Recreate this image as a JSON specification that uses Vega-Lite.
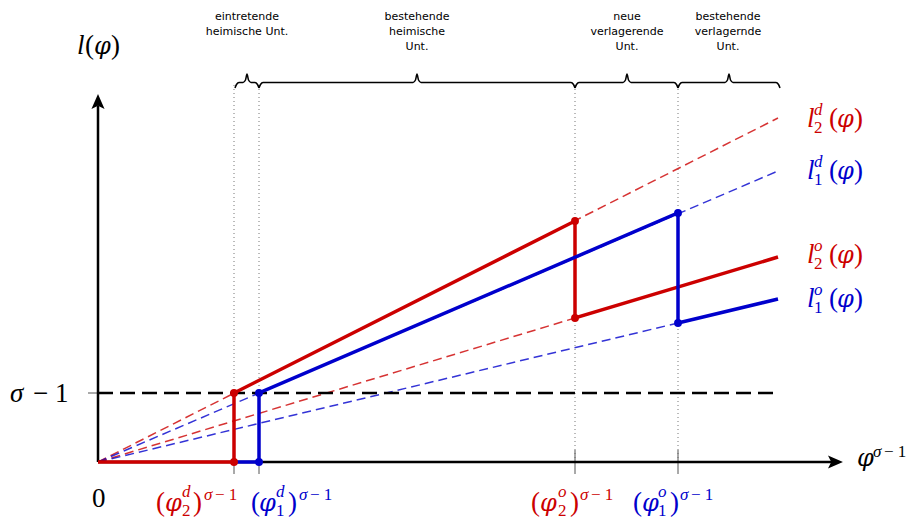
{
  "$schema": "https://vega.github.io/schema/vega-lite/v6.json",
  "width": 917,
  "height": 519,
  "autosize": "none",
  "padding": 0,
  "background": "white",
  "config": {"view": {"stroke": null}},
  "datasets": {
    "segments": [
      {"kind": "guide", "series": "k", "x": 136, "x2": 136, "y": 0, "y2": 377},
      {"kind": "guide", "series": "k", "x": 161, "x2": 161, "y": 0, "y2": 377},
      {"kind": "guide", "series": "k", "x": 477, "x2": 477, "y": 0, "y2": 377},
      {"kind": "guide", "series": "k", "x": 580, "x2": 580, "y": 0, "y2": 377},
      {"kind": "tick", "series": "k", "x": 136, "x2": 136, "y": -12, "y2": 12},
      {"kind": "tick", "series": "k", "x": 161, "x2": 161, "y": -12, "y2": 12},
      {"kind": "tick", "series": "k", "x": 477, "x2": 477, "y": -12, "y2": 12},
      {"kind": "tick", "series": "k", "x": 580, "x2": 580, "y": -12, "y2": 12},
      {"kind": "tick", "series": "k", "x": -10, "x2": 0, "y": 69, "y2": 69},
      {"kind": "ray", "series": "l2", "x": 0, "x2": 680, "y": 0, "y2": 344},
      {"kind": "ray", "series": "l1", "x": 0, "x2": 680, "y": 0, "y2": 291},
      {"kind": "ray", "series": "l2", "x": 0, "x2": 477, "y": 0, "y2": 144},
      {"kind": "ray", "series": "l1", "x": 0, "x2": 580, "y": 0, "y2": 139},
      {"kind": "sigma", "series": "k", "x": 0, "x2": 680, "y": 69, "y2": 69},
      {"kind": "axis", "series": "k", "x": 0, "x2": 735, "y": 0, "y2": 0},
      {"kind": "axis", "series": "k", "x": 0, "x2": 0, "y": 0, "y2": 356}
    ],
    "paths": [
      {"series": "l2", "o": 0, "x": 0, "y": 0},
      {"series": "l2", "o": 1, "x": 136, "y": 0},
      {"series": "l2", "o": 2, "x": 136, "y": 69},
      {"series": "l2", "o": 3, "x": 477, "y": 241},
      {"series": "l2", "o": 4, "x": 477, "y": 144},
      {"series": "l2", "o": 5, "x": 680, "y": 205},
      {"series": "l1", "o": 0, "x": 136, "y": 0},
      {"series": "l1", "o": 1, "x": 161, "y": 0},
      {"series": "l1", "o": 2, "x": 161, "y": 69},
      {"series": "l1", "o": 3, "x": 580, "y": 249},
      {"series": "l1", "o": 4, "x": 580, "y": 139},
      {"series": "l1", "o": 5, "x": 680, "y": 163}
    ],
    "dots": [
      {"series": "l2", "x": 136, "y": 0},
      {"series": "l2", "x": 136, "y": 69},
      {"series": "l2", "x": 477, "y": 241},
      {"series": "l2", "x": 477, "y": 144},
      {"series": "l1", "x": 161, "y": 0},
      {"series": "l1", "x": 161, "y": 69},
      {"series": "l1", "x": 580, "y": 249},
      {"series": "l1", "x": 580, "y": 139}
    ],
    "arrows": [
      {"dir": "up", "x": 0, "y": 358.6},
      {"dir": "right", "x": 735.6, "y": 0}
    ],
    "braces": [
      {"id": 1, "o": 0, "x": 137, "y": 374}, {"id": 1, "o": 1, "x": 138.5, "y": 377.5}, {"id": 1, "o": 2, "x": 141, "y": 379.5}, {"id": 1, "o": 3, "x": 145, "y": 379.5}, {"id": 1, "o": 4, "x": 147.5, "y": 382}, {"id": 1, "o": 5, "x": 149, "y": 388}, {"id": 1, "o": 6, "x": 150.5, "y": 382}, {"id": 1, "o": 7, "x": 153, "y": 379.5}, {"id": 1, "o": 8, "x": 157, "y": 379.5}, {"id": 1, "o": 9, "x": 159.5, "y": 377.5}, {"id": 1, "o": 10, "x": 161, "y": 374},
      {"id": 2, "o": 0, "x": 161, "y": 374}, {"id": 2, "o": 1, "x": 162.5, "y": 377.5}, {"id": 2, "o": 2, "x": 165, "y": 379.5}, {"id": 2, "o": 3, "x": 315, "y": 379.5}, {"id": 2, "o": 4, "x": 317.5, "y": 382}, {"id": 2, "o": 5, "x": 319, "y": 388}, {"id": 2, "o": 6, "x": 320.5, "y": 382}, {"id": 2, "o": 7, "x": 323, "y": 379.5}, {"id": 2, "o": 8, "x": 473, "y": 379.5}, {"id": 2, "o": 9, "x": 475.5, "y": 377.5}, {"id": 2, "o": 10, "x": 477, "y": 374},
      {"id": 3, "o": 0, "x": 477, "y": 374}, {"id": 3, "o": 1, "x": 478.5, "y": 377.5}, {"id": 3, "o": 2, "x": 481, "y": 379.5}, {"id": 3, "o": 3, "x": 525, "y": 379.5}, {"id": 3, "o": 4, "x": 527.5, "y": 382}, {"id": 3, "o": 5, "x": 529, "y": 388}, {"id": 3, "o": 6, "x": 530.5, "y": 382}, {"id": 3, "o": 7, "x": 533, "y": 379.5}, {"id": 3, "o": 8, "x": 576, "y": 379.5}, {"id": 3, "o": 9, "x": 578.5, "y": 377.5}, {"id": 3, "o": 10, "x": 580, "y": 374},
      {"id": 4, "o": 0, "x": 580, "y": 374}, {"id": 4, "o": 1, "x": 581.5, "y": 377.5}, {"id": 4, "o": 2, "x": 584, "y": 379.5}, {"id": 4, "o": 3, "x": 627, "y": 379.5}, {"id": 4, "o": 4, "x": 629.5, "y": 382}, {"id": 4, "o": 5, "x": 631, "y": 388}, {"id": 4, "o": 6, "x": 632.5, "y": 382}, {"id": 4, "o": 7, "x": 635, "y": 379.5}, {"id": 4, "o": 8, "x": 678, "y": 379.5}, {"id": 4, "o": 9, "x": 680.5, "y": 377.5}, {"id": 4, "o": 10, "x": 682, "y": 374}
    ],
    "captions": [
      {"text": "eintretende\nheimische Unt.", "x": 149, "y": 442},
      {"text": "bestehende\nheimische\nUnt.", "x": 319, "y": 442},
      {"text": "neue\nverlagerende\nUnt.", "x": 529, "y": 442},
      {"text": "bestehende\nverlagernde\nUnt.", "x": 630, "y": 442}
    ],
    "phi": [
      {"series": "k", "text": "φ", "x": -4, "y": 408},
      {"series": "l2", "text": "φ", "x": 739, "y": 335},
      {"series": "l1", "text": "φ", "x": 739, "y": 283},
      {"series": "l2", "text": "φ", "x": 739, "y": 199},
      {"series": "l1", "text": "φ", "x": 739, "y": 155},
      {"series": "l2", "text": "φ", "x": 67, "y": -49},
      {"series": "l1", "text": "φ", "x": 161, "y": -49},
      {"series": "l2", "text": "φ", "x": 442, "y": -49},
      {"series": "l1", "text": "φ", "x": 544, "y": -49},
      {"series": "k", "text": "φ", "x": 759, "y": -4}
    ],
    "baseItalic": [
      {"series": "k", "text": "l", "x": -21, "y": 408},
      {"series": "l2", "text": "l", "x": 709, "y": 335},
      {"series": "l1", "text": "l", "x": 709, "y": 283},
      {"series": "l2", "text": "l", "x": 709, "y": 199},
      {"series": "l1", "text": "l", "x": 709, "y": 155},
      {"series": "k", "text": "σ", "x": -88, "y": 60}
    ],
    "baseUpright": [
      {"series": "k", "text": "(", "x": -13, "y": 408},
      {"series": "k", "text": ")", "x": 13, "y": 408},
      {"series": "l2", "text": "(", "x": 731, "y": 335},
      {"series": "l2", "text": ")", "x": 756, "y": 335},
      {"series": "l1", "text": "(", "x": 731, "y": 283},
      {"series": "l1", "text": ")", "x": 756, "y": 283},
      {"series": "l2", "text": "(", "x": 731, "y": 199},
      {"series": "l2", "text": ")", "x": 756, "y": 199},
      {"series": "l1", "text": "(", "x": 731, "y": 155},
      {"series": "l1", "text": ")", "x": 756, "y": 155},
      {"series": "l2", "text": "(", "x": 58, "y": -49},
      {"series": "l2", "text": ")", "x": 95, "y": -49},
      {"series": "l1", "text": "(", "x": 153, "y": -49},
      {"series": "l1", "text": ")", "x": 190, "y": -49},
      {"series": "l2", "text": "(", "x": 433, "y": -49},
      {"series": "l2", "text": ")", "x": 472, "y": -49},
      {"series": "l1", "text": "(", "x": 535, "y": -49},
      {"series": "l1", "text": ")", "x": 572, "y": -49},
      {"series": "k", "text": "0", "x": -6, "y": -45},
      {"series": "k", "text": "− 1", "x": -65, "y": 60}
    ],
    "scriptItalic": [
      {"series": "l2", "text": "d", "x": 716, "y": 347},
      {"series": "l1", "text": "d", "x": 716, "y": 295},
      {"series": "l2", "text": "o", "x": 716, "y": 211},
      {"series": "l1", "text": "o", "x": 716, "y": 167},
      {"series": "l2", "text": "d", "x": 84, "y": -35},
      {"series": "l1", "text": "d", "x": 178, "y": -35},
      {"series": "l2", "text": "o", "x": 460, "y": -35},
      {"series": "l1", "text": "o", "x": 560, "y": -35},
      {"series": "l2", "text": "σ", "x": 106, "y": -38},
      {"series": "l1", "text": "σ", "x": 201, "y": -38},
      {"series": "l2", "text": "σ", "x": 482, "y": -38},
      {"series": "l1", "text": "σ", "x": 582, "y": -38},
      {"series": "k", "text": "σ", "x": 775, "y": 5}
    ],
    "scriptUpright": [
      {"series": "l2", "text": "2", "x": 716, "y": 329},
      {"series": "l1", "text": "1", "x": 716, "y": 277},
      {"series": "l2", "text": "2", "x": 716, "y": 193},
      {"series": "l1", "text": "1", "x": 716, "y": 149},
      {"series": "l2", "text": "2", "x": 84, "y": -54},
      {"series": "l1", "text": "1", "x": 178, "y": -54},
      {"series": "l2", "text": "2", "x": 460, "y": -54},
      {"series": "l1", "text": "1", "x": 560, "y": -54},
      {"series": "l2", "text": "− 1", "x": 117, "y": -38},
      {"series": "l1", "text": "− 1", "x": 212, "y": -38},
      {"series": "l2", "text": "− 1", "x": 493, "y": -38},
      {"series": "l1", "text": "− 1", "x": 593, "y": -38},
      {"series": "k", "text": "− 1", "x": 786, "y": 5}
    ]
  },
  "encoding": {
    "x": {"field": "x", "type": "quantitative", "scale": {"domain": [-98, 819], "nice": false, "zero": false}, "axis": null},
    "y": {"field": "y", "type": "quantitative", "scale": {"domain": [-57, 462], "nice": false, "zero": false}, "axis": null}
  },
  "layer": [
    {
      "data": {"name": "segments"},
      "transform": [{"filter": "datum.kind === 'guide'"}],
      "mark": {"type": "rule", "color": "#777777", "strokeWidth": 1, "strokeDash": [1, 3]},
      "encoding": {"x2": {"field": "x2"}, "y2": {"field": "y2"}}
    },
    {
      "data": {"name": "segments"},
      "transform": [{"filter": "datum.kind === 'tick'"}],
      "mark": {"type": "rule", "color": "#555555", "strokeWidth": 1},
      "encoding": {"x2": {"field": "x2"}, "y2": {"field": "y2"}}
    },
    {
      "data": {"name": "segments"},
      "transform": [{"filter": "datum.kind === 'ray'"}],
      "mark": {"type": "rule", "strokeWidth": 1.5, "strokeDash": [9, 5], "opacity": 0.8},
      "encoding": {
        "x2": {"field": "x2"}, "y2": {"field": "y2"},
        "color": {"field": "series", "type": "nominal", "scale": {"domain": ["l1", "l2", "k"], "range": ["#0000cc", "#cc0000", "#000000"]}, "legend": null}
      }
    },
    {
      "data": {"name": "segments"},
      "transform": [{"filter": "datum.kind === 'sigma'"}],
      "mark": {"type": "rule", "color": "#000000", "strokeWidth": 2.5, "strokeDash": [15, 7]},
      "encoding": {"x2": {"field": "x2"}, "y2": {"field": "y2"}}
    },
    {
      "data": {"name": "segments"},
      "transform": [{"filter": "datum.kind === 'axis'"}],
      "mark": {"type": "rule", "color": "#000000", "strokeWidth": 2.5},
      "encoding": {"x2": {"field": "x2"}, "y2": {"field": "y2"}}
    },
    {
      "data": {"name": "paths"},
      "mark": {"type": "line", "strokeWidth": 3.5, "strokeJoin": "miter", "strokeCap": "butt"},
      "encoding": {
        "order": {"field": "o", "type": "quantitative"},
        "detail": {"field": "series"},
        "color": {"field": "series", "type": "nominal", "scale": {"domain": ["l1", "l2", "k"], "range": ["#0000cc", "#cc0000", "#000000"]}, "legend": null}
      }
    },
    {
      "data": {"name": "dots"},
      "mark": {"type": "point", "shape": "circle", "filled": true, "opacity": 1, "size": 62},
      "encoding": {
        "color": {"field": "series", "type": "nominal", "scale": {"domain": ["l1", "l2", "k"], "range": ["#0000cc", "#cc0000", "#000000"]}, "legend": null}
      }
    },
    {
      "data": {"name": "arrows"},
      "transform": [{"filter": "datum.dir === 'up'"}],
      "mark": {"type": "point", "shape": "M0,-1 L0.7,0.6 L0,0.25 L-0.7,0.6 Z", "filled": true, "color": "#000000", "opacity": 1, "size": 350, "angle": 0}
    },
    {
      "data": {"name": "arrows"},
      "transform": [{"filter": "datum.dir === 'right'"}],
      "mark": {"type": "point", "shape": "M0,-1 L0.7,0.6 L0,0.25 L-0.7,0.6 Z", "filled": true, "color": "#000000", "opacity": 1, "size": 350, "angle": 90}
    },
    {
      "data": {"name": "braces"},
      "mark": {"type": "line", "color": "#000000", "strokeWidth": 1.5, "interpolate": "monotone"},
      "encoding": {"order": {"field": "o", "type": "quantitative"}, "detail": {"field": "id"}}
    },
    {
      "data": {"name": "captions"},
      "mark": {"type": "text", "font": "DejaVu Sans", "fontSize": 11, "align": "center", "baseline": "alphabetic", "lineBreak": "\n", "lineHeight": 15, "color": "#000000"},
      "encoding": {"text": {"field": "text"}}
    },
    {
      "data": {"name": "phi"},
      "mark": {"type": "text", "font": "DejaVu Serif", "fontSize": 24, "fontStyle": "italic", "align": "left", "baseline": "alphabetic"},
      "encoding": {
        "text": {"field": "text"},
        "color": {"field": "series", "type": "nominal", "scale": {"domain": ["l1", "l2", "k"], "range": ["#0000cc", "#cc0000", "#000000"]}, "legend": null}
      }
    },
    {
      "data": {"name": "baseItalic"},
      "mark": {"type": "text", "font": "Liberation Serif", "fontSize": 27, "fontStyle": "italic", "align": "left", "baseline": "alphabetic"},
      "encoding": {
        "text": {"field": "text"},
        "color": {"field": "series", "type": "nominal", "scale": {"domain": ["l1", "l2", "k"], "range": ["#0000cc", "#cc0000", "#000000"]}, "legend": null}
      }
    },
    {
      "data": {"name": "baseUpright"},
      "mark": {"type": "text", "font": "Liberation Serif", "fontSize": 27, "align": "left", "baseline": "alphabetic"},
      "encoding": {
        "text": {"field": "text"},
        "color": {"field": "series", "type": "nominal", "scale": {"domain": ["l1", "l2", "k"], "range": ["#0000cc", "#cc0000", "#000000"]}, "legend": null}
      }
    },
    {
      "data": {"name": "scriptItalic"},
      "mark": {"type": "text", "font": "Liberation Serif", "fontSize": 17, "fontStyle": "italic", "align": "left", "baseline": "alphabetic"},
      "encoding": {
        "text": {"field": "text"},
        "color": {"field": "series", "type": "nominal", "scale": {"domain": ["l1", "l2", "k"], "range": ["#0000cc", "#cc0000", "#000000"]}, "legend": null}
      }
    },
    {
      "data": {"name": "scriptUpright"},
      "mark": {"type": "text", "font": "Liberation Serif", "fontSize": 17, "align": "left", "baseline": "alphabetic"},
      "encoding": {
        "text": {"field": "text"},
        "color": {"field": "series", "type": "nominal", "scale": {"domain": ["l1", "l2", "k"], "range": ["#0000cc", "#cc0000", "#000000"]}, "legend": null}
      }
    }
  ]
}
